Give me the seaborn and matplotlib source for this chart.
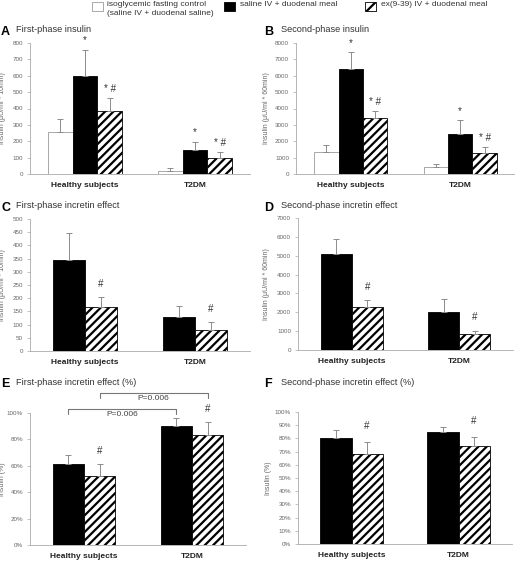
import numpy as np
import pandas as pd
import matplotlib
matplotlib.use("Agg")
import matplotlib.pyplot as plt
import seaborn as sns
from matplotlib.patches import Rectangle

sns.set_theme(style="white")
plt.rcParams['font.family'] = ['Liberation Sans', 'DejaVu Sans']
plt.rcParams['hatch.linewidth'] = 1.6

groups = ["Healthy subjects", "T2DM"]
conds3 = ["control", "meal", "ex"]
conds2 = ["meal", "ex"]

# Panel A: first-phase insulin
a_vals = {"control": [255, 18], "meal": [600, 145], "ex": [385, 97]}
a_err = {"control": [83, 17], "meal": [160, 53], "ex": [80, 36]}
# Panel B: second-phase insulin
b_vals = {"control": [1350, 450], "meal": [6400, 2450], "ex": [3450, 1280]}
b_err = {"control": [410, 170], "meal": [1050, 830], "ex": [400, 340]}
# Panel C: first-phase incretin effect
c_vals = {"meal": [345, 127], "ex": [167, 80]}
c_err = {"meal": [102, 45], "ex": [38, 30]}
# Panel D: second-phase incretin effect
d_vals = {"meal": [5080, 2030], "ex": [2280, 840]}
d_err = {"meal": [820, 670], "ex": [370, 190]}
# Panel E: first-phase incretin effect (%)
e_vals = {"meal": [61, 90], "ex": [52.5, 83]}
e_err = {"meal": [7, 6.5], "ex": [8.5, 10]}
# Panel F: second-phase incretin effect (%)
f_vals = {"meal": [80, 85], "ex": [68, 74]}
f_err = {"meal": [6, 4], "ex": [9, 7]}

a_marks = {"control": ["", ""], "meal": ["*", "*"], "ex": ["* #", "* #"]}
b_marks = a_marks
c_marks = {"meal": ["", ""], "ex": ["#", "#"]}

legend_labels = ["isoglycemic fasting control\n(saline IV + duodenal saline)",
                 "saline IV + duodenal meal",
                 "ex(9-39) IV + duodenal meal"]

W, H = 515, 562
fig = plt.figure(figsize=(W / 100, H / 100), dpi=100)


def ax_at(l, t, r, b):
    return fig.add_axes([l / W, 1 - b / H, (r - l) / W, (b - t) / H])


GRAY = "#8c8c8c"
style = {"control": dict(fc="white", ec="#9a9a9a", hatch=None),
         "meal": dict(fc="black", ec="black", hatch=None),
         "ex": dict(fc="white", ec="black", hatch="////")}


def panel(ax, vals, errs, marks, conds, width, ymax, ystep, ylabel, label_x,
          pct=False, mark_off=3):
    rows = []
    for c in conds:
        for g, v in zip(groups, vals[c]):
            rows.append({"group": g, "cond": c, "value": v})
    df = pd.DataFrame(rows)
    sns.barplot(data=df, x="group", y="value", hue="cond", order=groups,
                hue_order=conds, palette=["white"] * len(conds), width=width,
                errorbar=None, legend=False, ax=ax, saturation=1)
    for cont, c in zip(ax.containers, conds):
        st = style[c]
        for i, p in enumerate(cont.patches):
            p.set_facecolor(st["fc"])
            p.set_edgecolor(st["ec"])
            p.set_linewidth(0.6)
            if st["hatch"]:
                p.set_hatch(st["hatch"])
            x = p.get_x() + p.get_width() / 2
            top = p.get_height() + errs[c][i]
            ax.errorbar([x], [p.get_height()], yerr=[[0], [errs[c][i]]],
                        fmt="none", ecolor=GRAY, elinewidth=0.7, capsize=2.2,
                        capthick=0.7, zorder=1)
            if marks and marks[c][i]:
                ax.annotate(marks[c][i], xy=(x, top), xytext=(0, mark_off),
                            textcoords="offset points", ha="center", va="bottom",
                            fontsize=7, color="#333333")
    ax.set_ylim(0, ymax)
    ax.set_xlim(-0.5, 1.5)
    ticks = np.arange(0, ymax + ystep / 2, ystep)
    ax.set_yticks(ticks)
    if pct:
        ax.set_yticklabels([f"{int(t)}%" for t in ticks])
    ax.tick_params(axis="y", labelsize=4.5, labelcolor="#666666", length=2,
                   width=0.5, color="#aaaaaa", pad=3, left=True)
    ax.tick_params(axis="x", length=0, pad=6)
    for lab in ax.get_xticklabels():
        lab.set_fontweight("bold")
        lab.set_fontsize(6)
        lab.set_color("#222222")
    ax.set_xlabel("")
    ax.set_ylabel(ylabel, fontsize=5, color="#666666")
    # place the y label at a fixed figure x (pixels)
    bbox = ax.get_position()
    lx = (label_x / W - bbox.x0) / bbox.width
    ax.yaxis.set_label_coords(lx, 0.5)
    for s in ["top", "right"]:
        ax.spines[s].set_visible(False)
    for s in ["left", "bottom"]:
        ax.spines[s].set_color("#aaaaaa")
        ax.spines[s].set_linewidth(0.6)


axA = ax_at(30, 43, 250, 174)
panel(axA, a_vals, a_err, a_marks, conds3, 0.67, 800, 100,
      "Insulin (µU/ml * 10min)", 6)
axB = ax_at(296, 43, 515, 174)
panel(axB, b_vals, b_err, b_marks, conds3, 0.67, 8000, 1000,
      "Insulin (µU/ml * 60min)", 270)
axC = ax_at(30, 219, 250, 351)
panel(axC, c_vals, c_err, c_marks, conds2, 0.58, 500, 50,
      "Insulin (µU/ml * 10min)", 6, mark_off=6)
axD = ax_at(298, 218, 513, 350)
panel(axD, d_vals, d_err, c_marks, conds2, 0.58, 7000, 1000,
      "Insulin (µU/ml * 60min)", 270, mark_off=6)
axE = ax_at(30, 413, 246, 545)
panel(axE, e_vals, e_err, c_marks, conds2, 0.58, 100, 20, "Insulin (%)", 6,
      pct=True, mark_off=6)
axF = ax_at(298, 412, 512, 544)
panel(axF, f_vals, f_err, c_marks, conds2, 0.58, 100, 10, "Insulin (%)", 272,
      pct=True, mark_off=8)

# Brackets in panel E (meal vs meal, ex vs ex)
meal_x = [p.get_x() + p.get_width() / 2 for p in axE.containers[0].patches]
ex_x = [p.get_x() + p.get_width() / 2 for p in axE.containers[1].patches]
for xs, yb, yt in [(meal_x, 99, 103), (ex_x, 111, 115)]:
    axE.plot([xs[0], xs[0], xs[1], xs[1]], [yb, yt, yt, yb], color="#777777",
             lw=0.8, clip_on=False)
    axE.text((xs[0] + xs[1]) / 2, yt - 1.2, "P=0.006", ha="center", va="top",
             fontsize=6, color="#444444", clip_on=False)

# Panel letters and titles (letter x, title x, letter baseline, title baseline)
titles = [("A", "First-phase insulin", 1, 16, 35, 32),
          ("B", "Second-phase insulin", 264, 281, 35, 32),
          ("C", "First-phase incretin effect", 1, 16, 211, 208),
          ("D", "Second-phase incretin effect", 264, 281, 211, 208),
          ("E", "First-phase incretin effect (%)", 1, 16, 387, 385),
          ("F", "Second-phase incretin effect (%)", 264, 281, 387, 385)]
for letter, t, xl, xt, yl, yt in titles:
    fig.text(xl / W, 1 - yl / H, letter, fontsize=9, fontweight="bold",
             color="black", ha="left", va="baseline")
    fig.text(xt / W, 1 - yt / H, t, fontsize=6.6, color="#333333", ha="left",
             va="baseline")

# Legend (drawn as figure patches)
legend_pos = [(92, 107), (224, 240), (365, 381)]
for (bx, tx), lab, c in zip(legend_pos, legend_labels, conds3):
    st = style[c]
    fig.patches.append(Rectangle((bx / W, 1 - 10.5 / H), 11 / W, 8.5 / H,
                                 transform=fig.transFigure, fc=st["fc"],
                                 ec=st["ec"], lw=0.6,
                                 hatch="///" if st["hatch"] else None))
    fig.text(tx / W, 1 - 1.5 / H, lab, fontsize=6, color="#333333", ha="left",
             va="top", linespacing=1.3)

fig.savefig("out.png", dpi=100)
